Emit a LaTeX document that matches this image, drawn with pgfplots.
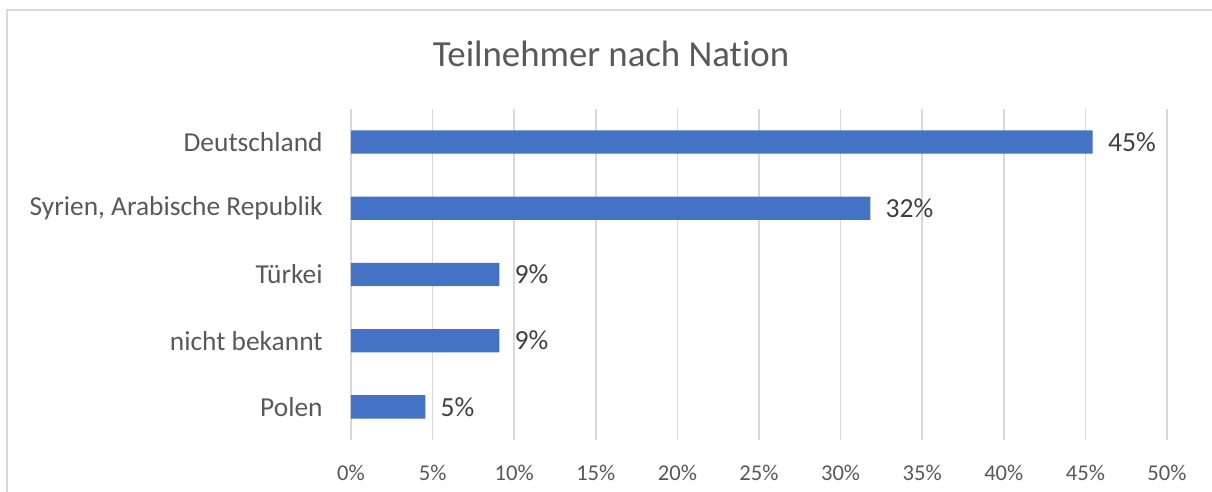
\documentclass[border=0pt]{standalone}
\usepackage{fontspec}
\setmainfont{Carlito}[Ligatures={NoCommon}]
\usepackage{pgfplots}
\pgfplotsset{compat=1.18}
\definecolor{barblue}{HTML}{4472C4}
\definecolor{titlegray}{HTML}{595959}
\definecolor{labelgray}{HTML}{595959}
\definecolor{datagray}{HTML}{404040}
\definecolor{gridgray}{HTML}{D9D9D9}
\begin{document}
\begin{tikzpicture}
\path[use as bounding box] (0,0) rectangle (606pt,246pt);
\draw[color=gridgray, line width=0.8pt] (3.5pt,0) -- (3.5pt,241pt) -- (606pt,241pt);
\node[anchor=base, text=titlegray, inner sep=0pt, font=\fontsize{18.4pt}{21pt}\selectfont] at (305.5pt,212.7pt) {Teilnehmer nach Nation};
\begin{axis}[
  at={(175.5pt,26pt)}, anchor=south west,
  scale only axis, width=408pt, height=165.5pt,
  xbar, bar width=11.65pt,
  xmin=0, xmax=50, ymin=-0.5, ymax=4.5,
  xtick={0,5,...,50},
  xticklabels={0\%,5\%,10\%,15\%,20\%,25\%,30\%,35\%,40\%,45\%,50\%},
  ytick={0,1,2,3,4},
  yticklabels={Polen,nicht bekannt,Türkei,{Syrien, Arabische Republik},Deutschland},
  axis line style={draw=none},
  major tick length=0pt,
  xmajorgrids,
  grid style={color=gridgray, line width=0.8pt},
  xticklabel style={anchor=north, inner sep=0pt, yshift=-12.5pt, text=labelgray, font=\fontsize{11.3pt}{13pt}\selectfont},
  yticklabel style={anchor=east, inner sep=0pt, xshift=-14pt, text=labelgray, font=\fontsize{13.7pt}{16pt}\selectfont},
  nodes near coords,
  point meta=explicit symbolic,
  every node near coord/.style={anchor=west, inner sep=0pt, xshift=7.5pt, text=datagray, font=\fontsize{13.8pt}{16pt}\selectfont},
]
\addplot[fill=barblue, draw=none] coordinates {
  (4.55,0) [5\%]
  (9.09,1) [9\%]
  (9.09,2) [9\%]
  (31.82,3) [32\%]
  (45.45,4) [45\%]
};
\end{axis}
\end{tikzpicture}
\end{document}
